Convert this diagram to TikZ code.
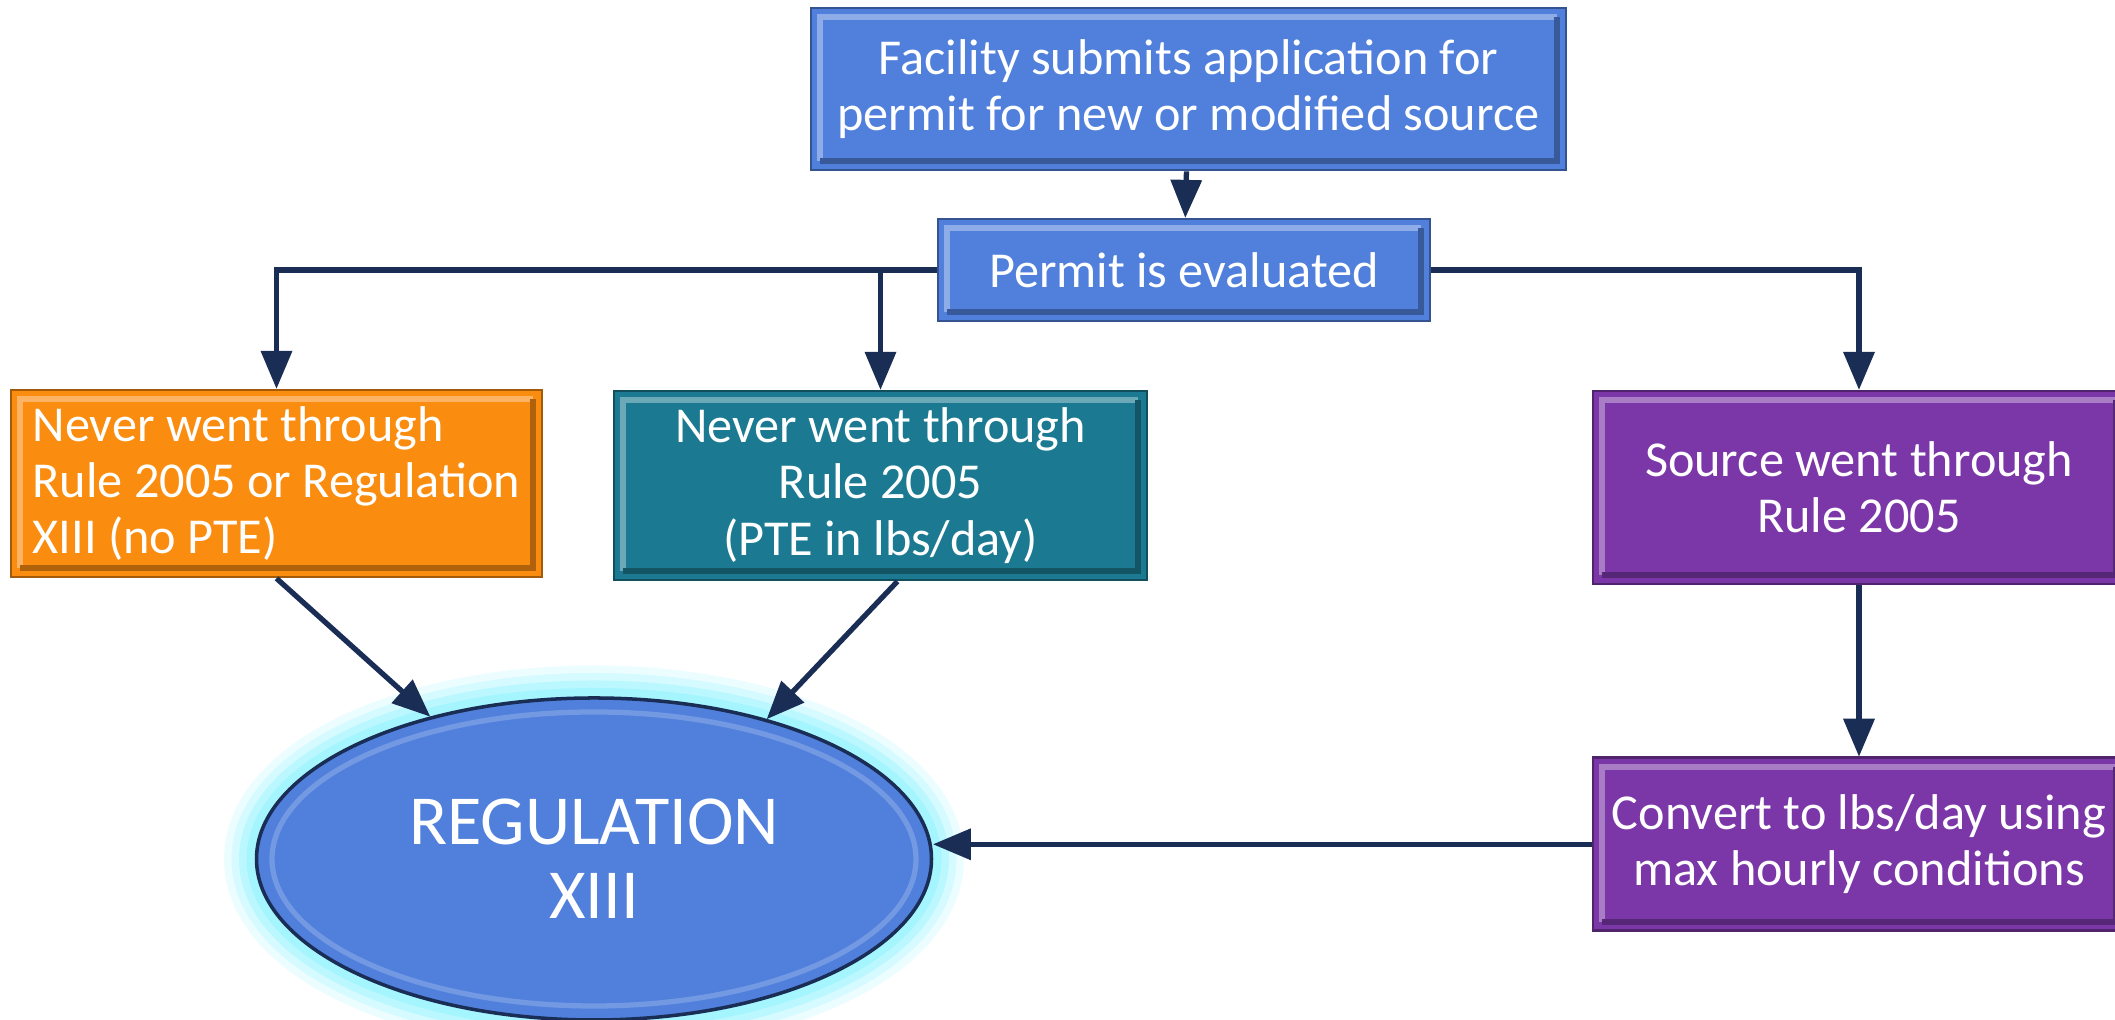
\documentclass[tikz,border=0pt]{standalone}
\usepackage{fontspec}
\setmainfont{Carlito}
\usepackage{xcolor}
\usetikzlibrary{arrows,shapes.geometric,positioning}

\definecolor{boxblue}{HTML}{5080DC}
\definecolor{boxorange}{HTML}{FA8C10}
\definecolor{boxteal}{HTML}{1B7A91}
\definecolor{boxpurple}{HTML}{7B37A8}
\definecolor{linenavy}{HTML}{192D55}
\definecolor{glowcyan}{HTML}{A0F4FF}

\begin{document}
\begin{tikzpicture}
        [box/.style={rectangle,fill=#1,draw=#1!65!black,line width=0.8pt,
            text=white,inner sep=0pt,align=center,
            font=\fontsize{14.3}{16}\selectfont,
            path picture={
                \draw[#1!65!white,line width=1.6pt]
                    ([shift={(0.9mm,0.9mm)}]path picture bounding box.south west)
                    |- ([shift={(-0.9mm,-0.9mm)}]path picture bounding box.north east);
                \draw[#1!70!black,line width=1.6pt]
                    ([shift={(0.9mm,0.9mm)}]path picture bounding box.south west)
                    -| ([shift={(-0.9mm,-0.9mm)}]path picture bounding box.north east);
            }},
         glow/.style={preaction={draw=glowcyan,line width=6.5mm,opacity=.2},
            preaction={draw=glowcyan,line width=5mm,opacity=.3},
            preaction={draw=glowcyan,line width=3.5mm,opacity=.5},
            preaction={draw=glowcyan,line width=2mm,opacity=.8}},
         link/.style={linenavy,line width=1.5pt},
         >=triangle 45]
        \useasboundingbox (0,0) rectangle (21.15,10.2);

        \node [box=boxblue,name=facility,minimum width=7.55cm,minimum height=1.62cm]
            at (11.885,9.31) {Facility submits application for\\permit for new or modified source};
        \node [box=boxblue,name=evaluate,minimum width=4.92cm,minimum height=1.02cm]
            at (11.84,7.50) {Permit is evaluated};
        \node [box=boxorange,name=neverboth,minimum width=5.31cm,minimum height=1.87cm,align=left]
            at (2.765,5.365) {Never went through\\Rule 2005 or Regulation\\XIII (no PTE)};
        \node [box=boxteal,name=neverrule,minimum width=5.33cm,minimum height=1.89cm]
            at (8.805,5.345) {Never went through\\Rule 2005\\(PTE in lbs/day)};
        \node [box=boxpurple,name=source,minimum width=5.32cm,minimum height=1.93cm]
            at (18.59,5.325) {Source went through\\Rule 2005};
        \node [box=boxpurple,name=convert,minimum width=5.32cm,minimum height=1.73cm,
            below=1.71cm of source] {Convert to lbs/day using\\max hourly conditions};
        \node [ellipse,glow,name=regxiii,fill=boxblue,draw=linenavy,line width=1pt,
            minimum width=6.75cm,minimum height=3.22cm,inner sep=0pt,text=white,align=center,
            font=\fontsize{20}{21}\selectfont,
            path picture={\draw[white,opacity=.2,line width=1.5pt]
                (path picture bounding box.center) ellipse (3.22cm and 1.47cm);}]
            at (5.94,1.61) {REGULATION\\XIII};

        \path[->,link] (facility) edge (evaluate)
              (source) edge (convert)
              (neverboth.south) edge (regxiii.139)
              (neverrule.-80) edge (regxiii.39);
        \draw[->,link] (evaluate.west) -| (neverboth.north);
        \draw[->,link] (evaluate.west -| neverrule.north) -- (neverrule.north);
        \draw[->,link] (evaluate.east) -| (source.north);
        \draw[->,link] (convert.west) -- (convert.west -| regxiii.east);
    \end{tikzpicture}
\end{document}
